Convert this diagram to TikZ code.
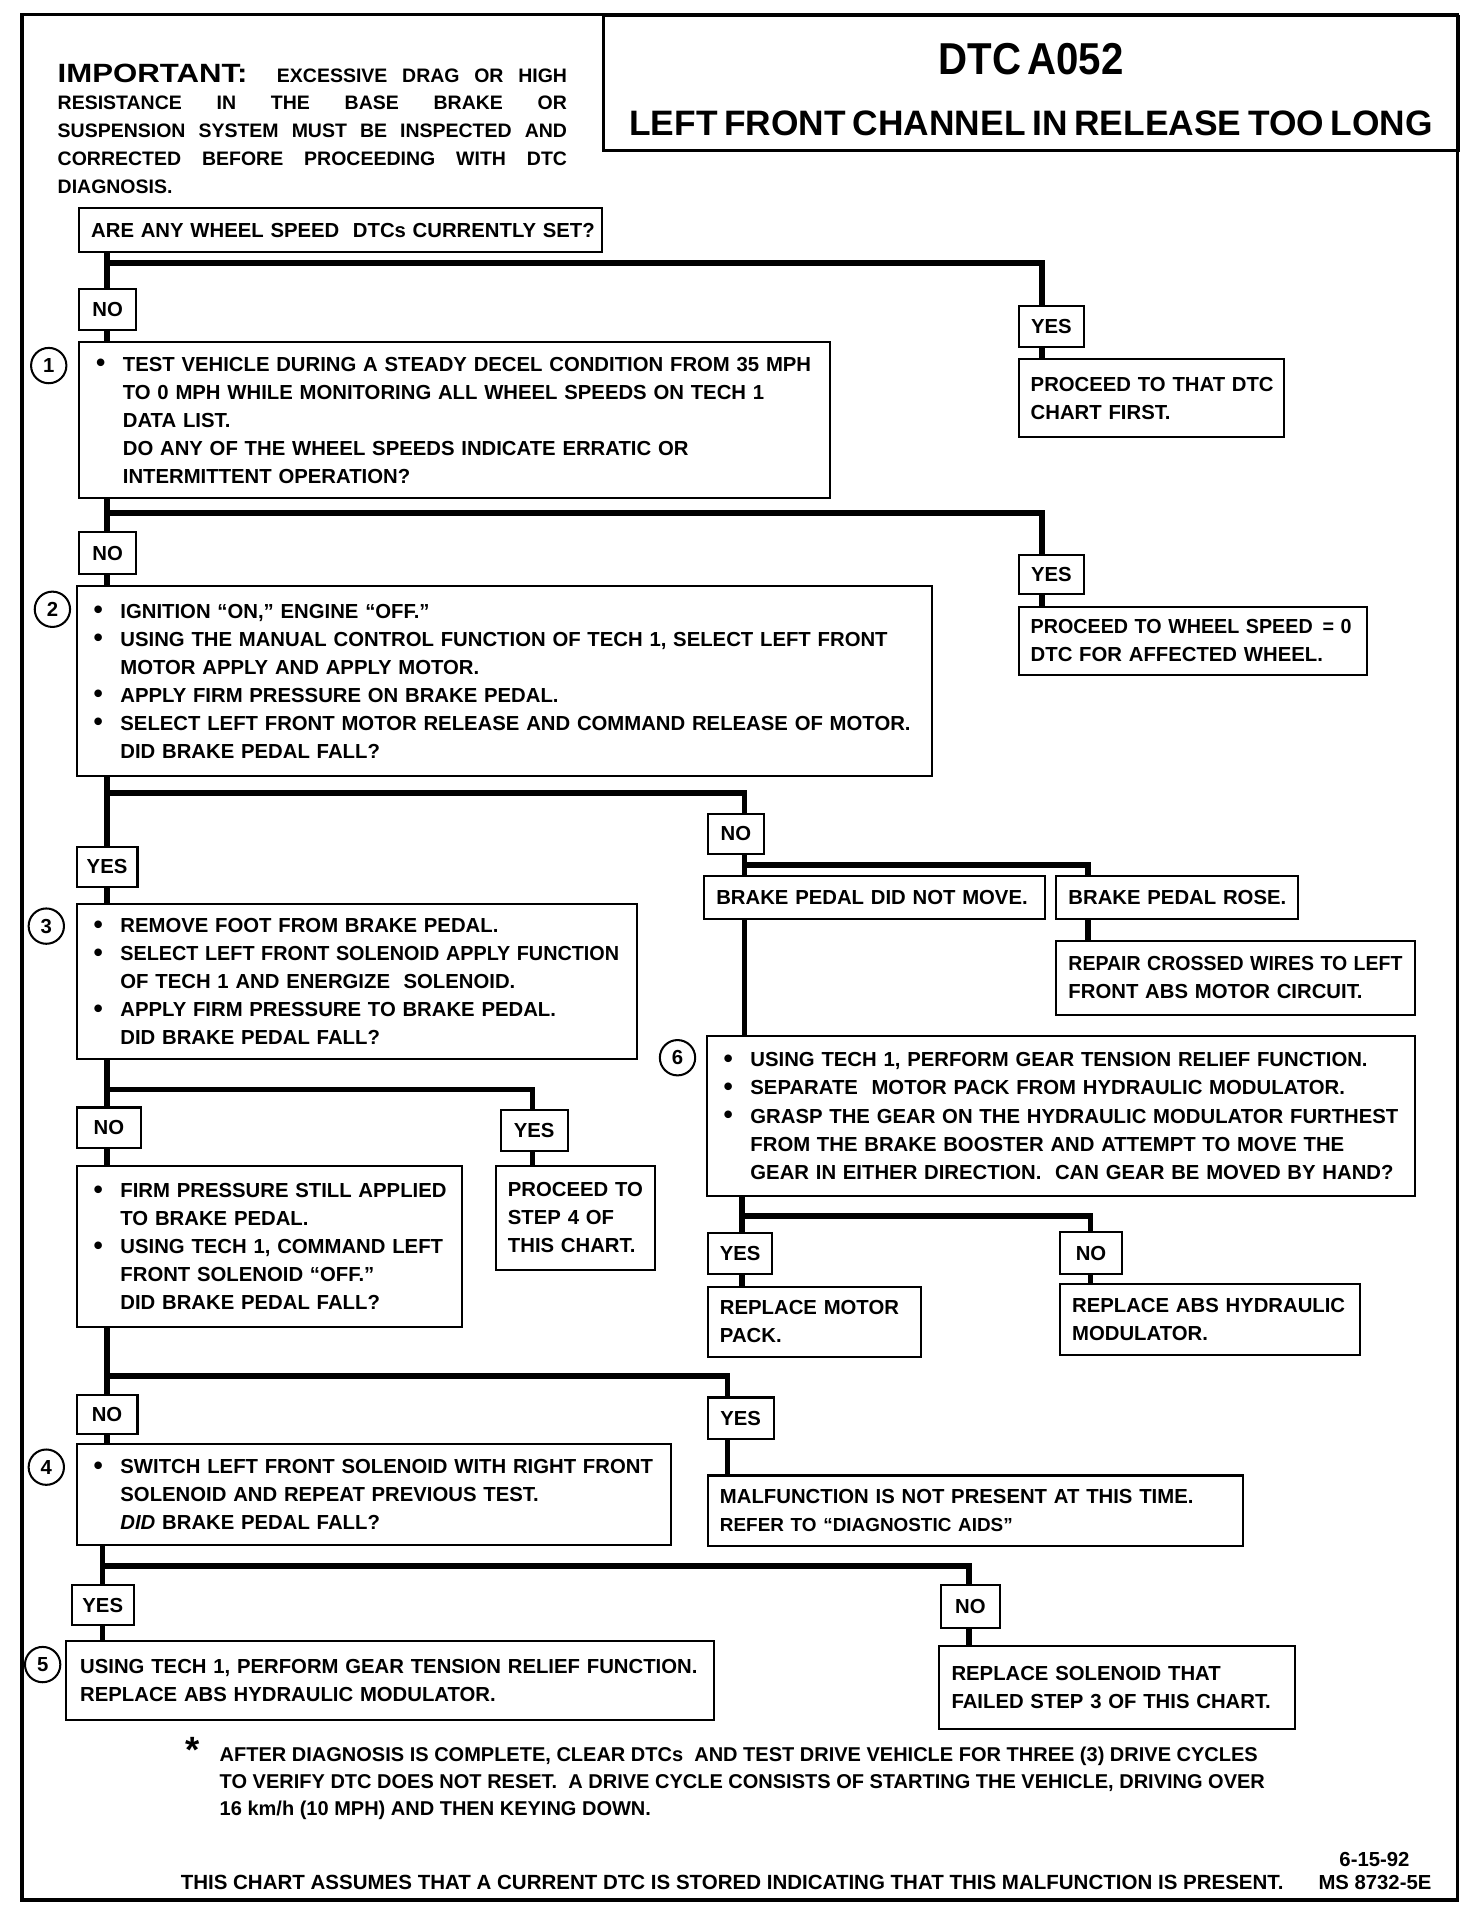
\documentclass[tikz,border=0pt]{standalone}
\usepackage{fontspec}
\setmainfont{Liberation Sans}
\usetikzlibrary{calc}
\setlength{\parindent}{0pt}
\def\unitpx{0.6pt}

\newcommand\bitem[1]{\hspace*{8.4pt}\makebox[13.2pt][l]{\raisebox{-0.3pt}{\scalebox{1.3}{\textbullet}}}\mbox{#1}}
\newcommand\bcont[1]{\hspace*{21.6pt}\mbox{#1}}
\newcommand\tpad[1]{\hspace*{6pt}\mbox{#1}}

\tikzset{
  chartbox/.style 2 args={draw, line width=1pt, anchor=north west, inner sep=0pt,
    align=left, text width=#1*\unitpx, minimum height=#2*\unitpx},
  answer/.style 2 args={draw, line width=1pt, anchor=north west, inner sep=0pt,
    minimum width=#1*\unitpx, minimum height=#2*\unitpx},
  stepno/.style={draw, circle, line width=1pt, inner sep=0pt, minimum size=29*\unitpx},
  flow/.style={line width=2.8pt},
  frame/.style={line width=1.8pt},
}

\begin{document}
\begin{tikzpicture}[x=0.6pt, y=-0.6pt, font=\fontsize{10}{13.8}\selectfont\bfseries]
            \useasboundingbox (0,0) rectangle (1208,1570.7);
            
            % Outer frame of the chart
            \draw [frame] (18,12) rectangle (1196,1559);%
            
            % Title box
            \node [draw, line width=1.4pt, anchor=north west, inner sep=0pt, align=center,
              text width=702*\unitpx, minimum height=110*\unitpx] (title) at (494,12)
              {{\fontsize{22}{22}\selectfont\rule{0pt}{21.5pt}\scalebox{0.9}[1]{DTC A052}\par}%
               {\fontsize{17.4}{30.2}\selectfont LEFT FRONT CHANNEL IN RELEASE TOO LONG\par}};%
            
            % Important notice
            \node [anchor=north west, inner sep=0pt, text width=418*\unitpx, align=justify,
              font=\fontsize{9.6}{13.65}\selectfont\bfseries] (notice) at (47,52)
              {{\fontsize{13}{13.65}\selectfont\scalebox{1.18}[1]{IMPORTANT:}}\ \ EXCESSIVE DRAG OR HIGH\linebreak
               RESISTANCE IN THE BASE BRAKE OR\linebreak
               SUSPENSION SYSTEM MUST BE INSPECTED AND\linebreak
               CORRECTED BEFORE PROCEEDING WITH DTC\linebreak
               DIAGNOSIS.\par};%
            
            % Question: wheel speed DTCs
            \node [chartbox={429}{36}] (q0) at (64,170) {\tpad{ARE ANY WHEEL SPEED\ \ DTCs CURRENTLY SET?}};%
            \node [answer={47}{34}] (no0) at (64,236) {NO};%
            \node [answer={54}{34}] (yes0) at (835,250) {YES};%
            \node [chartbox={218}{64}] (dtc0) at (835,294) {\tpad{PROCEED TO THAT DTC}\\ \tpad{CHART FIRST.}};%
            
            % Step 1
            \node [stepno] (c1) at (40,300) {1};%
            \node [chartbox={616}{128}] (s1) at (64,280)
              {\bitem{TEST VEHICLE DURING A STEADY DECEL CONDITION FROM 35 MPH}\\
               \bcont{TO 0 MPH WHILE MONITORING ALL WHEEL SPEEDS ON TECH 1}\\
               \bcont{DATA LIST.}\\
               \bcont{DO ANY OF THE WHEEL SPEEDS INDICATE ERRATIC OR}\\
               \bcont{INTERMITTENT OPERATION?}};%
            \node [answer={47}{34}] (no1) at (64,436) {NO};%
            \node [answer={54}{32}] (yes1) at (835,455) {YES};%
            \node [chartbox={286}{56}] (ws1) at (835,497) {\tpad{\scalebox{0.97}[1]{PROCEED TO WHEEL SPEED \,= 0}}\\ \tpad{DTC FOR AFFECTED WHEEL.}};%
            
            % Step 2
            \node [stepno] (c2) at (43,500) {2};%
            \node [chartbox={702}{156}] (s2) at (62,480)
              {\bitem{IGNITION “ON,” ENGINE “OFF.”}\\
               \bitem{USING THE MANUAL CONTROL FUNCTION OF TECH 1, SELECT LEFT FRONT}\\
               \bcont{MOTOR APPLY AND APPLY MOTOR.}\\
               \bitem{APPLY FIRM PRESSURE ON BRAKE PEDAL.}\\
               \bitem{SELECT LEFT FRONT MOTOR RELEASE AND COMMAND RELEASE OF MOTOR.}\\
               \bcont{DID BRAKE PEDAL FALL?}};%
            \node [answer={50}{33}] (yes2) at (62,694) {YES};%
            \node [answer={46}{33}] (no2) at (580,667) {NO};%
            \node [chartbox={280}{35}] (dnm) at (577,718) {\tpad{BRAKE PEDAL DID NOT MOVE.}};%
            \node [chartbox={198}{35}] (rose) at (866,718) {\tpad{BRAKE PEDAL ROSE.}};%
            \node [chartbox={294}{61}] (rep) at (866,771)
              {\tpad{\scalebox{0.96}[1]{REPAIR CROSSED WIRES TO LEFT}}\\ \tpad{FRONT ABS MOTOR CIRCUIT.}};%
            
            % Step 6
            \node [stepno] (c6) at (556,868) {6};%
            \node [chartbox={581}{132}] (s6) at (579,849)
              {\bitem{USING TECH 1, PERFORM GEAR TENSION RELIEF FUNCTION.}\\
               \bitem{SEPARATE\ \ MOTOR PACK FROM HYDRAULIC MODULATOR.}\\
               \bitem{GRASP THE GEAR ON THE HYDRAULIC MODULATOR FURTHEST}\\
               \bcont{FROM THE BRAKE BOOSTER AND ATTEMPT TO MOVE THE}\\
               \bcont{GEAR IN EITHER DIRECTION.\ \ CAN GEAR BE MOVED BY HAND?}};%
            \node [answer={53}{34}] (yes6) at (580,1011) {YES};%
            \node [answer={51}{35}] (no6) at (869,1010) {NO};%
            \node [chartbox={175}{58}] (mp) at (580,1055) {\tpad{REPLACE MOTOR}\\ \tpad{PACK.}};%
            \node [chartbox={246}{58}] (hm) at (869,1053) {\tpad{REPLACE ABS HYDRAULIC}\\ \tpad{MODULATOR.}};%
            
            % Step 3
            \node [stepno] (c3) at (38,760) {3};%
            \node [chartbox={460}{127}] (s3) at (62,741)
              {\bitem{REMOVE FOOT FROM BRAKE PEDAL.}\\
               \bitem{\scalebox{0.975}[1]{SELECT LEFT FRONT SOLENOID APPLY FUNCTION}}\\
               \bcont{OF TECH 1 AND ENERGIZE\ \ SOLENOID.}\\
               \bitem{APPLY FIRM PRESSURE TO BRAKE PEDAL.}\\
               \bcont{DID BRAKE PEDAL FALL?}};%
            \node [answer={53}{33}] (no3) at (62,908) {NO};%
            \node [answer={55}{34}] (yes3) at (410,910) {YES};%
            \node [chartbox={131}{85}] (st4) at (406,956) {\tpad{PROCEED TO}\\ \tpad{STEP 4 OF}\\ \tpad{THIS CHART.}};%
            \node [chartbox={316}{132}] (s3b) at (62,956)
              {\bitem{FIRM PRESSURE STILL APPLIED}\\
               \bcont{TO BRAKE PEDAL.}\\
               \bitem{USING TECH 1, COMMAND LEFT}\\
               \bcont{FRONT SOLENOID “OFF.”}\\
               \bcont{DID BRAKE PEDAL FALL?}};%
            \node [answer={50}{32}] (no3b) at (62,1144) {NO};%
            \node [answer={54}{34}] (yes3b) at (580,1146) {YES};%
            \node [chartbox={439}{58}] (mal) at (580,1210)
              {\tpad{MALFUNCTION IS NOT PRESENT AT THIS TIME.}\\
               \tpad{\fontsize{9.3}{13.8}\selectfont REFER TO “DIAGNOSTIC AIDS”}};%
            
            % Step 4
            \node [stepno] (c4) at (38,1204) {4};%
            \node [chartbox={488}{83}] (s4) at (62,1184)
              {\bitem{SWITCH LEFT FRONT SOLENOID WITH RIGHT FRONT}\\
               \bcont{SOLENOID AND REPEAT PREVIOUS TEST.}\\
               \bcont{\textit{DID} BRAKE PEDAL FALL?}};%
            \node [answer={51}{33}] (yes4) at (58,1300) {YES};%
            \node [answer={49}{35}] (no4) at (771,1300) {NO};%
            
            % Step 5
            \node [stepno] (c5) at (35,1366) {5};%
            \node [chartbox={532}{65}] (s5) at (53,1346)
              {\hspace*{1.2pt}\tpad{USING TECH 1, PERFORM GEAR TENSION RELIEF FUNCTION.}\\
               \hspace*{1.2pt}\tpad{REPLACE ABS HYDRAULIC MODULATOR.}};%
            \node [chartbox={292}{68}] (sol) at (770,1350) {\tpad{REPLACE SOLENOID THAT}\\ \tpad{FAILED STEP 3 OF THIS CHART.}};%
            
            % Junctions of the flow lines
            \coordinate (j0) at (88,216);  \coordinate (k0) at (855,216);
            \coordinate (j1) at (88,421);  \coordinate (k1) at (855,421);
            \coordinate (j2) at (88,651);  \coordinate (k2) at (611,651);
            \coordinate (k3) at (611,710); \coordinate (m3) at (893,710);
            \coordinate (k4) at (609,998); \coordinate (m4) at (895,998);
            \coordinate (j5) at (88,894);  \coordinate (k5) at (437,894);
            \coordinate (j6) at (88,1129); \coordinate (k6) at (597,1129);
            \coordinate (j7) at (84,1285); \coordinate (k7) at (795,1285);
            
            % Drawing flow from the question
            \draw [flow] (q0.south -| j0) -- (no0.north -| j0);%
            \draw [flow] (j0) -- (k0) -- (k0 |- yes0.north);%
            \draw [flow] (yes0.south -| k0) -- (dtc0.north -| k0);%
            \draw [flow] (no0.south -| j0) -- (s1.north -| j0);%
            
            % Drawing flow from step 1
            \draw [flow] (s1.south -| j1) -- (no1.north -| j1);%
            \draw [flow] (j1) -- (k1) -- (k1 |- yes1.north);%
            \draw [flow] (yes1.south -| k1) -- (ws1.north -| k1);%
            \draw [flow] (no1.south -| j1) -- (s2.north -| j1);%
            
            % Drawing flow from step 2
            \draw [flow] (s2.south -| j2) -- (yes2.north -| j2);%
            \draw [flow] (j2) -- (k2) -- (k2 |- no2.north);%
            \draw [flow] (yes2.south -| j2) -- (s3.north -| j2);%
            \draw [flow] (no2.south -| k3) -- (dnm.north -| k3);%
            \draw [flow] (k3) -- (m3) -- (m3 |- rose.north);%
            \draw [flow] (rose.south -| m3) -- (rep.north -| m3);%
            \draw [flow] (dnm.south -| k2) -- (s6.north -| k2);%
            
            % Drawing flow from step 6
            \draw [flow] (s6.south -| k4) -- (yes6.north -| k4);%
            \draw [flow] (k4) -- (m4) -- (m4 |- no6.north);%
            \draw [flow] (yes6.south -| k4) -- (mp.north -| k4);%
            \draw [flow] (no6.south -| m4) -- (hm.north -| m4);%
            
            % Drawing flow from step 3
            \draw [flow] (s3.south -| j5) -- (no3.north -| j5);%
            \draw [flow] (j5) -- (k5) -- (k5 |- yes3.north);%
            \draw [flow] (yes3.south -| k5) -- (st4.north -| k5);%
            \draw [flow] (no3.south -| j5) -- (s3b.north -| j5);%
            \draw [flow] (s3b.south -| j6) -- (no3b.north -| j6);%
            \draw [flow] (j6) -- (k6) -- (k6 |- yes3b.north);%
            \draw [flow] (yes3b.south -| k6) -- (mal.north -| k6);%
            \draw [flow] (no3b.south -| j6) -- (s4.north -| j6);%
            
            % Drawing flow from step 4
            \draw [flow] (s4.south -| j7) -- (yes4.north -| j7);%
            \draw [flow] (j7) -- (k7) -- (k7 |- no4.north);%
            \draw [flow] (yes4.south -| j7) -- (s5.north -| j7);%
            \draw [flow] (no4.south -| k7) -- (sol.north -| k7);%
            
            % Footnote and chart notes
            \node [inner sep=0pt, font=\fontsize{18}{18}\selectfont\bfseries] (star) at (158,1436) {*};%
            \node [anchor=north west, inner sep=0pt, align=left, font=\fontsize{9.85}{13.5}\selectfont\bfseries] (note) at (180,1433)
              {AFTER DIAGNOSIS IS COMPLETE, CLEAR DTCs\ \ AND TEST DRIVE VEHICLE FOR THREE (3) DRIVE CYCLES\\
               TO VERIFY DTC DOES NOT RESET.\ \ A DRIVE CYCLE CONSISTS OF STARTING THE VEHICLE, DRIVING OVER\\
               16 km/h (10 MPH) AND THEN KEYING DOWN.};%
            \node [anchor=east, inner sep=0pt, font=\fontsize{10}{11}\selectfont\bfseries] (date) at (1157,1526) {6-15-92};%
            \node [anchor=west, inner sep=0pt, font=\fontsize{10.1}{11}\selectfont\bfseries] (assume) at (148,1545)
              {THIS CHART ASSUMES THAT A CURRENT DTC IS STORED INDICATING THAT THIS MALFUNCTION IS PRESENT.};%
            \node [anchor=east, inner sep=0pt, font=\fontsize{10}{11}\selectfont\bfseries] (msno) at (1175,1545) {MS 8732-5E};%
        \end{tikzpicture}
\end{document}
